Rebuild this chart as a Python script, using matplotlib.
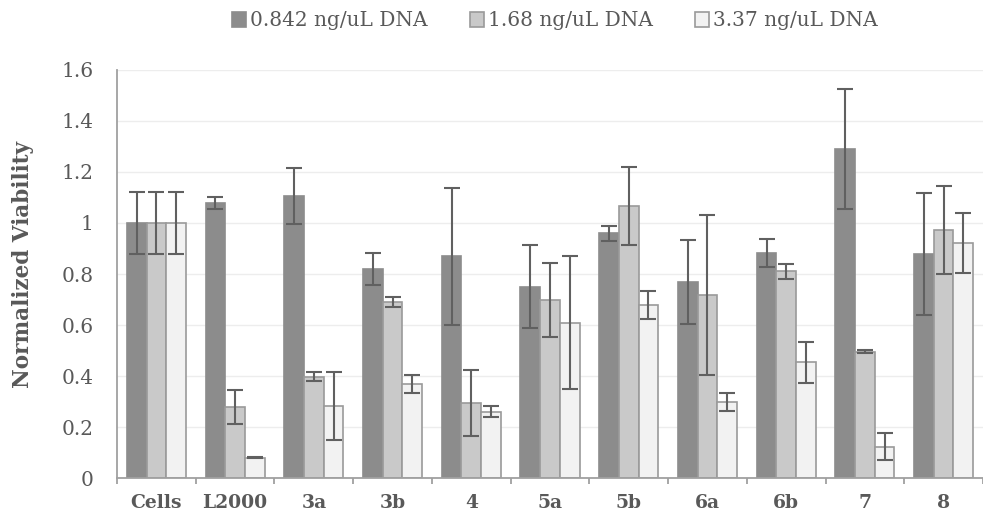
import matplotlib
matplotlib.use("Agg")
import matplotlib.pyplot as plt
import numpy as np

# Transfection viability data
categories = ["Cells", "L2000", "3a", "3b", "4", "5a", "5b", "6a", "6b", "7", "8"]
series_names = ["0.842 ng/uL DNA", "1.68 ng/uL DNA", "3.37 ng/uL DNA"]

viab_low = [1.00, 1.078, 1.107, 0.820, 0.870, 0.751, 0.960, 0.769, 0.881, 1.289, 0.879]
viab_mid = [1.00, 0.280, 0.398, 0.691, 0.296, 0.697, 1.067, 0.718, 0.811, 0.496, 0.973]
viab_high = [1.00, 0.081, 0.284, 0.371, 0.261, 0.610, 0.678, 0.299, 0.454, 0.124, 0.923]

err_low = [0.120, 0.022, 0.110, 0.061, 0.268, 0.164, 0.029, 0.163, 0.055, 0.234, 0.240]
err_mid = [0.120, 0.067, 0.018, 0.020, 0.130, 0.145, 0.153, 0.315, 0.030, 0.005, 0.171]
err_high = [0.120, 0.003, 0.134, 0.035, 0.022, 0.260, 0.054, 0.036, 0.080, 0.054, 0.118]

y_ticks = [0, 0.2, 0.4, 0.6, 0.8, 1, 1.2, 1.4, 1.6]
y_tick_labels = ["0", "0.2", "0.4", "0.6", "0.8", "1", "1.2", "1.4", "1.6"]

plt.rcParams["font.family"] = ["DejaVu Serif"]

W, H = 983, 519
fig = plt.figure(figsize=(W / 100, H / 100), dpi=100)
ax = fig.add_axes([117 / W, 1 - 478.3 / H, (W - 117) / W, (478.3 - 69.8) / H])

text_col = "#595959"
fills = ["#8c8c8c", "#c9c9c9", "#f2f2f2"]
edges = ["#8c8c8c", "#9a9a9a", "#9a9a9a"]
err_col = "#606060"

x = np.arange(len(categories))
bw = 0.25
values = [viab_low, viab_mid, viab_high]
errors = [err_low, err_mid, err_high]

for i in range(3):
    pos = x + (i - 1) * bw
    ax.bar(pos, values[i], width=bw, color=fills[i], edgecolor=edges[i],
           linewidth=1.2, label=series_names[i], zorder=2)
    ax.errorbar(pos, values[i], yerr=errors[i], fmt="none", ecolor=err_col,
                elinewidth=1.5, capsize=5.8, capthick=1.5, zorder=3)

ax.set_ylim(0, 1.6)
ax.set_xlim(-0.5, -0.5 + (W - 117) / 80)
ax.set_yticks(y_ticks)
ax.set_yticklabels(y_tick_labels)
ax.set_xticks(x)
ax.set_xticklabels(categories, fontweight="bold")
ax.set_xticks(np.arange(-0.5, len(categories) + 0.5, 1), minor=True)

ax.grid(axis="y", color="#ededed", linewidth=1.0, zorder=0)
ax.set_axisbelow(True)

for s in ["top", "right"]:
    ax.spines[s].set_visible(False)
for s in ["left", "bottom"]:
    ax.spines[s].set_color("#a0a0a0")
    ax.spines[s].set_linewidth(1.3)

ax.tick_params(axis="y", length=0, pad=17, labelsize=14.5, labelcolor=text_col)
ax.tick_params(axis="x", which="major", length=0, pad=11.5, labelsize=13.5, labelcolor=text_col)
ax.tick_params(axis="x", which="minor", length=4, width=1.3, color="#a0a0a0")

fig.text(23 / W, 1 - 264 / H, "Normalized Viability", rotation=90,
         ha="center", va="center", fontsize=15.5, fontweight="bold", color=text_col)

leg = fig.legend(loc="center", bbox_to_anchor=(555 / W, 1 - 21 / H), ncol=3,
                 frameon=False, fontsize=14.5, handlelength=0.7, handleheight=0.7,
                 handletextpad=0.2, columnspacing=2.1, labelcolor=text_col)

fig.savefig("out.png", dpi=100)
